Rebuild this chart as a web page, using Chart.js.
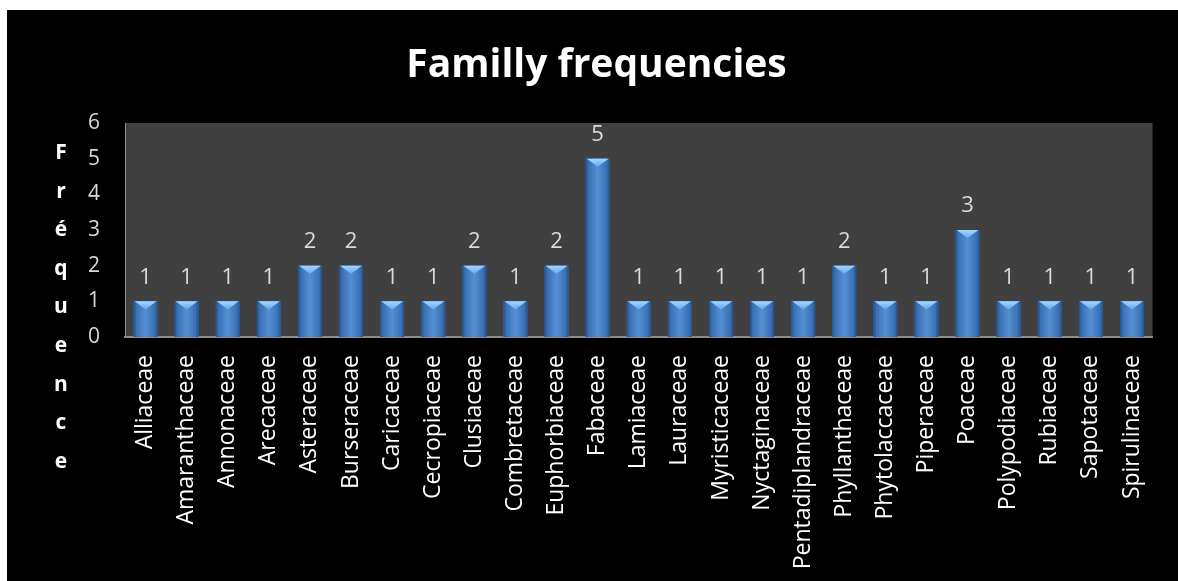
<!DOCTYPE html>
<html>
<head>
<meta charset="utf-8">
<script src="https://cdn.jsdelivr.net/npm/chart.js@4/dist/chart.umd.min.js"></script>
<style>
  html, body { margin: 0; padding: 0; background: #fff; }
  #wrap { position: absolute; left: 7px; top: 10px; width: 1171px; height: 571px; background: #000; }
</style>
</head>
<body>
<div id="wrap"><canvas id="familyChart" width="1171" height="571"></canvas></div>
<script>
const families = [
  "Alliaceae", "Amaranthaceae", "Annonaceae", "Arecaceae", "Asteraceae",
  "Burseraceae", "Caricaceae", "Cecropiaceae", "Clusiaceae", "Combretaceae",
  "Euphorbiaceae", "Fabaceae", "Lamiaceae", "Lauraceae", "Myristicaceae",
  "Nyctaginaceae", "Pentadiplandraceae", "Phyllanthaceae", "Phytolaccaceae", "Piperaceae",
  "Poaceae", "Polypodiaceae", "Rubiaceae", "Sapotaceae", "Spirulinaceae"
];
const counts = [1, 1, 1, 1, 2, 2, 1, 1, 2, 1, 2, 5, 1, 1, 1, 1, 1, 2, 1, 1, 3, 1, 1, 1, 1];
const chartTitle = "Familly frequencies";
const yTitleLetters = ["F", "r", "é", "q", "u", "e", "n", "c", "e"];
const yTicks = [0, 1, 2, 3, 4, 5, 6];

const FONT = "'Open Sans', 'DejaVu Sans', sans-serif";

// gray plot background
const plotBg = {
  id: "plotBg",
  beforeDraw(chart) {
    const { ctx, chartArea: a } = chart;
    ctx.save();
    ctx.fillStyle = "#404040";
    ctx.fillRect(a.left, a.top, a.right - a.left, a.bottom - a.top);
    ctx.restore();
  }
};

// bevelled look on the bars + value labels
const barDeco = {
  id: "barDeco",
  afterDatasetsDraw(chart) {
    const ctx = chart.ctx;
    const meta = chart.getDatasetMeta(0);
    ctx.save();
    meta.data.forEach((bar, i) => {
      const left = bar.x - bar.width / 2;
      const right = bar.x + bar.width / 2;
      const top = bar.y;
      const bottom = bar.base;

      const g = ctx.createLinearGradient(left, 0, right, 0);
      g.addColorStop(0, "#22508c");
      g.addColorStop(0.12, "#3a70b5");
      g.addColorStop(0.5, "#5590d4");
      g.addColorStop(0.88, "#3a70b5");
      g.addColorStop(1, "#22508c");
      ctx.fillStyle = g;
      ctx.fillRect(left, top, right - left, bottom - top);

      // top bevel
      const bev = bar.width * 0.34;
      const tg = ctx.createLinearGradient(0, top, 0, top + bev);
      tg.addColorStop(0, "#a4d6ff");
      tg.addColorStop(1, "#6aa8ea");
      ctx.fillStyle = tg;
      ctx.beginPath();
      ctx.moveTo(left + 1, top);
      ctx.lineTo(right - 1, top);
      ctx.lineTo(bar.x, top + bev);
      ctx.closePath();
      ctx.fill();

      ctx.fillStyle = "#d9d9d9";
      ctx.font = "22px " + FONT;
      ctx.textAlign = "center";
      ctx.textBaseline = "middle";
      ctx.fillText(String(counts[i]), bar.x, top - 24);
    });
    ctx.restore();
  }
};

// stacked letters of the y axis title
const yTitle = {
  id: "yTitle",
  afterDraw(chart) {
    const ctx = chart.ctx;
    ctx.save();
    ctx.fillStyle = "#ffffff";
    ctx.font = "bold 21px " + FONT;
    ctx.textAlign = "center";
    ctx.textBaseline = "middle";
    yTitleLetters.forEach((ch, i) => {
      ctx.fillText(ch, 54, 143 + i * 38.6);
    });
    ctx.restore();
  }
};

let chart = new Chart(document.getElementById("familyChart").getContext("2d"), {
  type: "bar",
  data: {
    labels: families,
    datasets: [{
      data: counts,
      backgroundColor: "#4a82c6",
      categoryPercentage: 1,
      barPercentage: 0.58
    }]
  },
  options: {
    responsive: false,
    animation: false,
    layout: { padding: { left: 30, right: 22, top: 0, bottom: 0 } },
    plugins: {
      legend: { display: false },
      tooltip: { enabled: false },
      title: {
        display: true,
        text: chartTitle,
        color: "#ffffff",
        font: { family: FONT, size: 39, weight: "bold", lineHeight: 1.2 },
        padding: { top: 32, bottom: 34.2 }
      }
    },
    scales: {
      x: {
        grid: { display: false, drawTicks: false },
        border: { color: "#8c8c8c", width: 2 },
        ticks: {
          color: "#ffffff",
          font: { family: FONT, size: 23 },
          minRotation: 90,
          maxRotation: 90,
          autoSkip: false,
          padding: 18
        },
        afterFit: s => { s.height = 244; }
      },
      y: {
        min: 0,
        max: 6,
        grid: { display: false, drawTicks: false },
        border: { color: "#8c8c8c", width: 1 },
        afterBuildTicks: s => { s.ticks = yTicks.map(v => ({ value: v })); },
        ticks: {
          color: "#d9d9d9",
          font: { family: FONT, size: 21 },
          padding: 25
        },
        afterFit: s => { s.width = 88; }
      }
    }
  },
  plugins: [plotBg, barDeco, yTitle]
});
</script>
</body>
</html>
